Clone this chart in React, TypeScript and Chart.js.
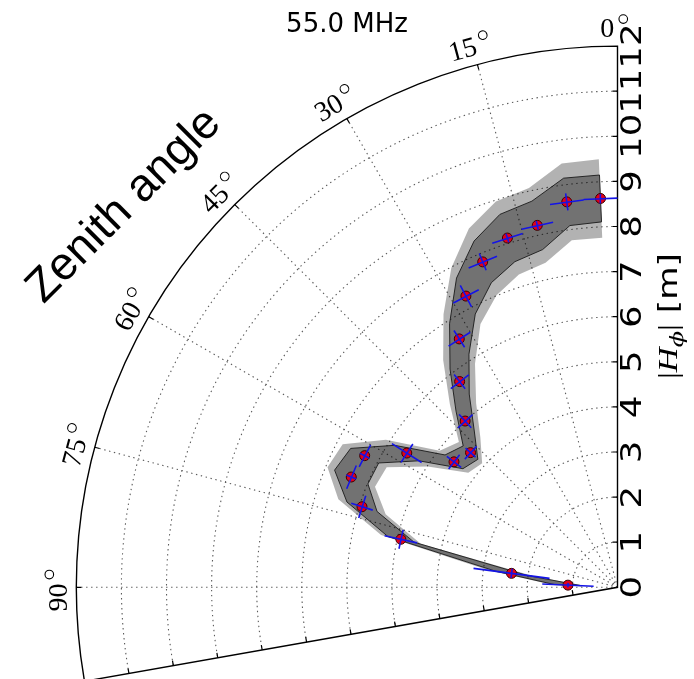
import React, { useEffect, useRef } from "react";
import { Chart, registerables } from "chart.js";

Chart.register(...registerables);

// ---------- data ----------
const TITLE = "55.0 MHz";
const zenithAngles = [2.5, 7.5, 12.5, 17.5, 22.5, 27.5, 32.5, 37.5, 42.5, 47.5, 52.5, 57.5, 62.5, 67.5, 72.5, 77.5, 82.5, 87.5];
const hPhi = [8.63, 8.62, 8.22, 8.12, 7.81, 7.28, 6.53, 5.75, 5.0, 4.42, 4.57, 5.54, 6.32, 6.39, 5.94, 4.92, 2.37, 1.1];
const hPhiErr = [0.1, 0.19, 0.1, 0.1, 0.2, 0.27, 0.22, 0.2, 0.2, 0.15, 0.2, 0.39, 0.12, 0.12, 0.25, 0.37, 0.85, 0.57];
const angleErr = [2.5, 2.5, 2.5, 2.5, 2.5, 2.5, 2.5, 2.5, 2.5, 2.5, 2.5, 2.5, 2.5, 2.5, 2.5, 2.5, 2.5, 2.5];
const innerBandHalf = [0.52, 0.53, 0.55, 0.55, 0.5, 0.45, 0.4, 0.35, 0.3, 0.22, 0.25, 0.32, 0.35, 0.4, 0.35, 0.3, 0.35, 0.3];
const outerBandHalf = [0.87, 0.86, 0.85, 0.85, 0.8, 0.7, 0.65, 0.6, 0.5, 0.35, 0.4, 0.55, 0.55, 0.57, 0.55, 0.45, 0.5, 0.4];
const radialTicks = [0, 1, 2, 3, 4, 5, 6, 7, 8, 9, 10, 11, 12];
const angleTicks = [0, 15, 30, 45, 60, 75, 90];
const R_MAX = 12;
const SECTOR_END = 100;
const RADIAL_LABEL = { bar: "|", sym: "H", sub: "\u03D5", unit: " [m]" };
const SIDE_LABEL = "Zenith angle";

// ---------- layout ----------
const W = 694;
const H = 679;
const OX = 617.5;
const OY = 587.3;
const PPU = 45.1;

const DEG = Math.PI / 180;
function toXY(thetaDeg: number, r: number) {
  const t = thetaDeg * DEG;
  return { x: -r * Math.sin(t), y: r * Math.cos(t) };
}

function bandPolygon(half: number[]) {
  const outer = zenithAngles.map((t, i) => toXY(t, hPhi[i] + half[i]));
  const inner = zenithAngles.map((t, i) => toXY(t, Math.max(0, hPhi[i] - half[i]))).reverse();
  return [...outer, ...inner, outer[0]];
}

function errorSegments() {
  const out: { x: number; y: number }[] = [];
  zenithAngles.forEach((t, i) => {
    const r = hPhi[i];
    out.push(toXY(t, r - hPhiErr[i]), toXY(t, r + hPhiErr[i]), { x: NaN, y: NaN });
    out.push(toXY(t - angleErr[i], r), toXY(t + angleErr[i], r), { x: NaN, y: NaN });
  });
  return out;
}

function geom(chart: any) {
  const xs = chart.scales.x;
  const ys = chart.scales.y;
  const ox = xs.getPixelForValue(0);
  const oy = ys.getPixelForValue(0);
  const ppu = xs.getPixelForValue(1) - ox;
  return { ox, oy, ppu, R: R_MAX * ppu };
}

const polygonFillPlugin = {
  id: "polygonFill",
  beforeDatasetDraw(chart: any, args: any) {
    const ds = chart.data.datasets[args.index];
    if (!ds.polygonFill) return;
    const ctx = chart.ctx;
    const pts = args.meta.data;
    ctx.save();
    ctx.beginPath();
    pts.forEach((p: any, i: number) => (i ? ctx.lineTo(p.x, p.y) : ctx.moveTo(p.x, p.y)));
    ctx.closePath();
    ctx.fillStyle = ds.polygonFill;
    ctx.fill();
    ctx.restore();
  },
};

const polarGridPlugin = {
  id: "polarGrid",
  beforeDatasetsDraw(chart: any) {
    const ctx = chart.ctx;
    const { ox, oy, ppu, R } = geom(chart);
    const a0 = -Math.PI / 2;
    const a1 = -Math.PI / 2 - SECTOR_END * DEG;
    ctx.save();
    ctx.strokeStyle = "#5a5a5a";
    ctx.lineWidth = 1.1;
    ctx.setLineDash([1.4, 3.6]);
    for (const r of radialTicks) {
      if (r <= 0 || r >= R_MAX) continue;
      ctx.beginPath();
      ctx.arc(ox, oy, r * ppu, a0, a1, true);
      ctx.stroke();
    }
    for (const a of angleTicks) {
      if (a === 0) continue;
      ctx.beginPath();
      ctx.moveTo(ox, oy);
      ctx.lineTo(ox - R * Math.sin(a * DEG), oy - R * Math.cos(a * DEG));
      ctx.stroke();
    }
    ctx.setLineDash([]);
    ctx.strokeStyle = "#000";
    ctx.lineWidth = 1.4;
    ctx.beginPath();
    ctx.moveTo(ox, oy);
    ctx.lineTo(ox, oy - R);
    ctx.arc(ox, oy, R, a0, a1, true);
    ctx.closePath();
    ctx.stroke();
    // ticks
    ctx.lineWidth = 1.2;
    ctx.beginPath();
    const te = SECTOR_END * DEG;
    for (const r of radialTicks) {
      if (r <= 0 || r >= R_MAX) continue;
      const y = oy - r * ppu;
      ctx.moveTo(ox, y);
      ctx.lineTo(ox - 5, y);
      const px = ox - r * ppu * Math.sin(te);
      const py = oy - r * ppu * Math.cos(te);
      ctx.moveTo(px, py);
      ctx.lineTo(px + 5 * Math.cos(te), py - 5 * Math.sin(te));
    }
    for (const a of angleTicks) {
      if (a === 0) continue;
      const s = Math.sin(a * DEG);
      const c = Math.cos(a * DEG);
      ctx.moveTo(ox - R * s, oy - R * c);
      ctx.lineTo(ox - (R - 5) * s, oy - (R - 5) * c);
    }
    ctx.stroke();
    ctx.restore();
  },
};

const labelsPlugin = {
  id: "polarLabels",
  afterDraw(chart: any) {
    const ctx = chart.ctx;
    const { ox, oy, ppu, R } = geom(chart);
    ctx.save();
    ctx.fillStyle = "#000";
    ctx.strokeStyle = "#000";

    // title
    ctx.font = '26px "DejaVu Sans"';
    ctx.textAlign = "center";
    ctx.textBaseline = "alphabetic";
    ctx.fillText(TITLE, 347, 32);

    // radial tick labels
    ctx.font = '28px "DejaVu Sans"';
    for (const r of radialTicks) {
      const y = oy - r * ppu;
      ctx.save();
      ctx.translate(ox + 16.5, y);
      ctx.rotate(-Math.PI / 2);
      ctx.scale(1.27, 1);
      ctx.textAlign = "center";
      ctx.textBaseline = "middle";
      ctx.fillText(String(r), 0, 0);
      ctx.restore();
    }

    // angle labels
    ctx.font = '28px "Liberation Serif"';
    for (const a of angleTicks) {
      const t = a * DEG;
      const d = R + 19;
      const cx = ox - d * Math.sin(t);
      const cy = oy - d * Math.cos(t);
      ctx.save();
      ctx.translate(cx, cy);
      ctx.rotate(-t);
      const txt = String(a);
      const w = ctx.measureText(txt).width;
      const total = w + 13.5;
      const sx = -3.5 - total / 2;
      ctx.textAlign = "left";
      ctx.textBaseline = "alphabetic";
      ctx.fillText(txt, sx, 9.5);
      ctx.beginPath();
      ctx.lineWidth = 1.1;
      ctx.arc(sx + w + 9, -8, 4.3, 0, Math.PI * 2);
      ctx.stroke();
      ctx.restore();
    }

    // Zenith angle
    ctx.save();
    ctx.font = '46px "Liberation Sans"';
    ctx.translate(124, 206);
    ctx.rotate(-Math.PI / 4);
    ctx.textAlign = "center";
    ctx.textBaseline = "middle";
    ctx.fillText(SIDE_LABEL, 0, 0);
    ctx.restore();

    // |H_phi| [m]
    ctx.save();
    ctx.translate(677, 316);
    ctx.rotate(-Math.PI / 2);
    ctx.scale(1.27, 1);
    const F = 27;
    const fBar = `${F}px "Liberation Serif"`;
    const fSym = `italic ${F}px "Liberation Serif"`;
    const fSub = `italic ${Math.round(F * 0.7)}px "DejaVu Serif"`;
    const fUnit = `${F}px "DejaVu Sans"`;
    const pieces: [string, string, number][] = [
      [RADIAL_LABEL.bar, fBar, 0],
      [RADIAL_LABEL.sym, fSym, 0],
      [RADIAL_LABEL.sub, fSub, 0.22 * F],
      [RADIAL_LABEL.bar, fBar, 0],
      [RADIAL_LABEL.unit, fUnit, 0],
    ];
    let total = 0;
    const widths = pieces.map(([s, f]) => {
      ctx.font = f;
      const w = ctx.measureText(s).width;
      total += w;
      return w;
    });
    let x = -total / 2;
    ctx.textAlign = "left";
    ctx.textBaseline = "alphabetic";
    pieces.forEach(([s, f, dy], i) => {
      ctx.font = f;
      ctx.fillText(s, x, dy);
      x += widths[i];
    });
    ctx.restore();

    ctx.restore();
  },
};

export default function App() {
  const ref = useRef<HTMLCanvasElement | null>(null);
  useEffect(() => {
    if (!ref.current) return;
    const xMin = -OX / PPU;
    const xMax = (W - OX) / PPU;
    const yMax = OY / PPU;
    const yMin = -(H - OY) / PPU;
    const chart = new Chart(ref.current, {
      type: "scatter",
      data: {
        datasets: [
          {
            label: "outer band",
            data: bandPolygon(outerBandHalf),
            showLine: false,
            pointRadius: 0,
            polygonFill: "rgba(0,0,0,0.3)",
            order: 5,
          } as any,
          {
            label: "inner band",
            data: bandPolygon(innerBandHalf),
            showLine: true,
            borderColor: "rgba(25,25,25,0.9)",
            borderWidth: 1,
            pointRadius: 0,
            polygonFill: "rgba(0,0,0,0.36)",
            order: 4,
          } as any,
          {
            label: "|H_phi|",
            data: zenithAngles.map((t, i) => toXY(t, hPhi[i])),
            showLine: false,
            pointRadius: 5,
            pointBackgroundColor: "#e0001b",
            pointBorderColor: "#3a0000",
            pointBorderWidth: 1,
            order: 2,
          },
          {
            label: "errors",
            data: errorSegments(),
            showLine: true,
            spanGaps: false,
            borderColor: "#1414e6",
            borderWidth: 1.6,
            pointRadius: 0,
            order: 1,
          },
        ],
      },
      options: {
        responsive: false,
        animation: false,
        events: [],
        layout: { padding: 0, autoPadding: false },
        elements: { line: { tension: 0 } },
        scales: {
          x: { type: "linear", min: xMin, max: xMax, display: false },
          y: { type: "linear", min: yMin, max: yMax, display: false },
        },
        plugins: { legend: { display: false }, tooltip: { enabled: false } },
      } as any,
      plugins: [polarGridPlugin, polygonFillPlugin, labelsPlugin],
    });
    return () => chart.destroy();
  }, []);
  return (
    <div style={{ position: "absolute", left: 0, top: 0, width: W, height: H, background: "#fff" }}>
      <canvas ref={ref} width={W} height={H} style={{ display: "block" }} />
    </div>
  );
}
